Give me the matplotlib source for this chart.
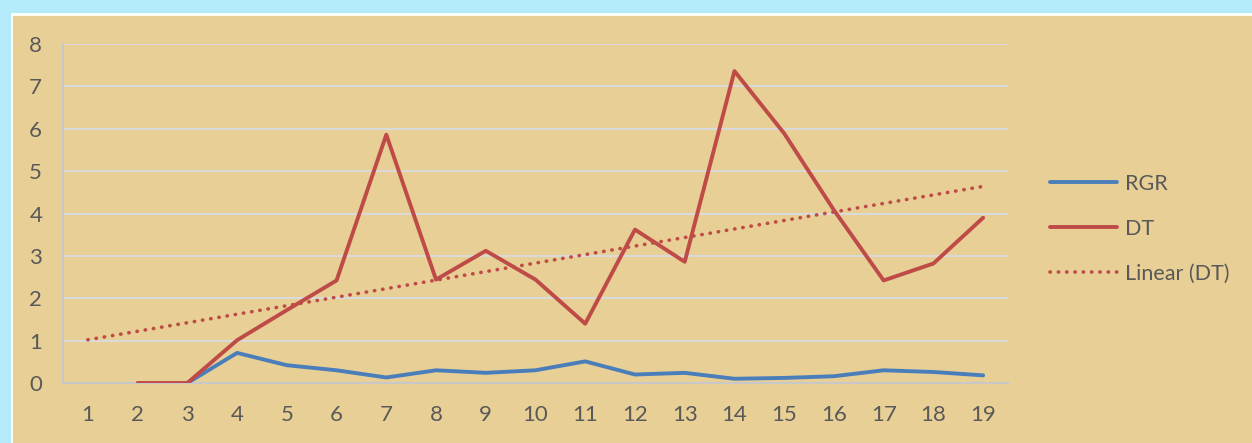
import matplotlib.pyplot as plt
from matplotlib.patches import Rectangle
import numpy as np

# данные
days = list(range(1, 20))
rgr = [np.nan, np.nan, 0, 0.71, 0.42, 0.30, 0.13, 0.30, 0.24, 0.30,
       0.51, 0.20, 0.24, 0.10, 0.12, 0.16, 0.30, 0.26, 0.18]
dt = [np.nan, 0, 0, 1.01, 1.72, 2.42, 5.86, 2.44, 3.12, 2.44,
      1.40, 3.62, 2.86, 7.36, 5.89, 4.08, 2.42, 2.82, 3.90]
trend_x = [1, 19]
trend_dt = [1.02, 4.64]

plt.rcParams['font.family'] = ['Lato', 'DejaVu Sans']

W, H = 1252, 443
fig = plt.figure(figsize=(W / 100, H / 100), dpi=100)
fig.patch.set_facecolor('#b3ebfa')

# фон "папирус" с белой рамкой
bg = fig.add_axes([0, 0, 1, 1], zorder=-5)
bg.set_axis_off()
bg.set_xlim(0, W)
bg.set_ylim(H, 0)
bg.add_patch(Rectangle((11, 13), W, H, facecolor='#fdfdf8', edgecolor='none'))
bg.add_patch(Rectangle((13, 16), W, H, facecolor='#e8cf95', edgecolor='none'))

ax = fig.add_axes([63 / W, (H - 383) / H, (1008 - 63) / W, (383 - 44) / H])
ax.set_facecolor('none')

ax.plot(days, rgr, color='#4a7ebb', lw=2.8, label='RGR', solid_capstyle='round', zorder=3)
ax.plot(days, dt, color='#be4b48', lw=2.8, label='DT', solid_capstyle='round', zorder=4)
ax.plot(trend_x, trend_dt, color='#be4b48', lw=2.6, ls=(0, (0.1, 2.2)),
        dash_capstyle='round', label='Linear (DT)', zorder=2)

ax.set_xlim(0.5, 19.5)
ax.set_ylim(0, 8)
ax.set_yticks(range(0, 9))
ax.set_xticks(days)
ax.grid(axis='y', color='#dadada', lw=1.5, zorder=1)
ax.set_axisbelow(True)
for s in ['top', 'right']:
    ax.spines[s].set_visible(False)
ax.spines['left'].set_color('#c8c8c8')
ax.spines['left'].set_linewidth(1.5)
ax.spines['bottom'].set_color('#c8c8c8')
ax.spines['bottom'].set_linewidth(1.5)
ax.tick_params(length=0, labelsize=16, labelcolor='#595959')
ax.tick_params(axis='y', pad=15)
ax.tick_params(axis='x', pad=16)

leg = ax.legend(loc='center left', bbox_to_anchor=(1.024, 0.455), frameon=False,
                fontsize=15.5, labelcolor='#595959', handlelength=3.1,
                handletextpad=0.4, labelspacing=1.15)

fig.savefig('out.png', dpi=100)
